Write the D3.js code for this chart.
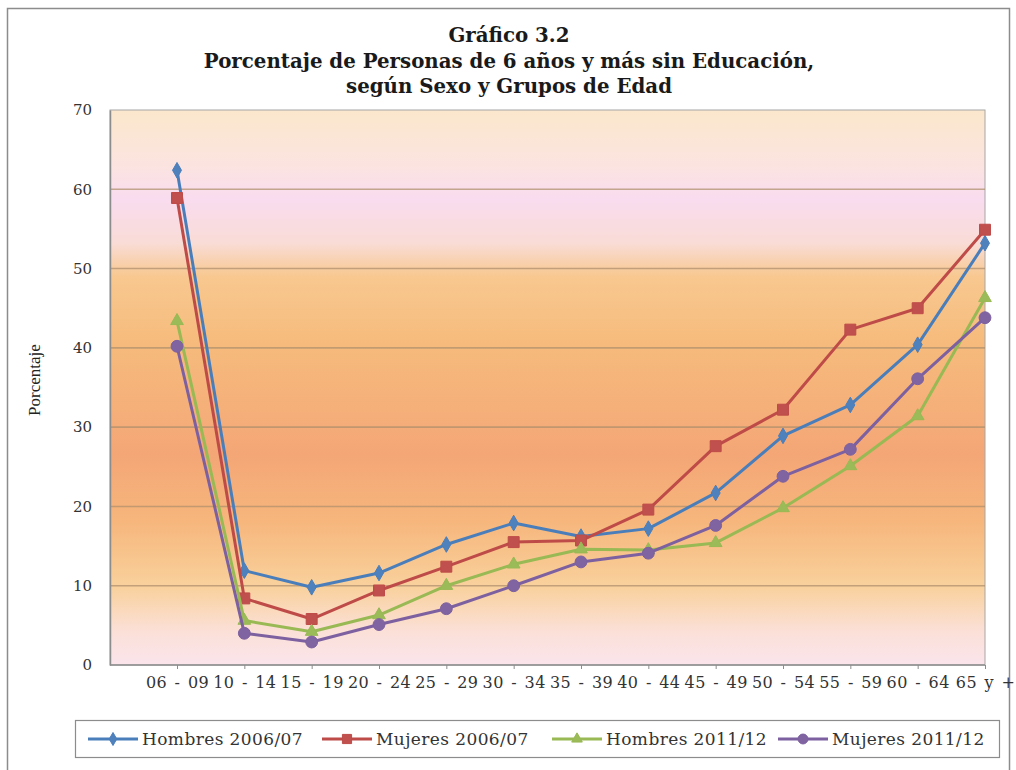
<!DOCTYPE html>
<html>
<head>
<meta charset="utf-8">
<script src="https://cdn.jsdelivr.net/npm/d3@7"></script>
<style>
  body { margin: 0; background: #fff; }
  svg { display: block; }
</style>
</head>
<body>
<svg id="chart"></svg>
<script>
// data
const categories = ['06 - 09', '10 - 14', '15 - 19', '20 - 24', '25 - 29', '30 - 34', '35 - 39',
  '40 - 44', '45 - 49', '50 - 54', '55 - 59', '60 - 64', '65 y +'];
const hombres0607 = [62.4, 11.9, 9.8, 11.6, 15.2, 17.9, 16.2, 17.2, 21.7, 28.9, 32.8, 40.4, 53.2];
const mujeres0607 = [58.9, 8.4, 5.8, 9.4, 12.4, 15.5, 15.7, 19.6, 27.6, 32.2, 42.3, 45.0, 54.9];
const hombres1112 = [43.4, 5.6, 4.2, 6.3, 10.0, 12.7, 14.6, 14.5, 15.4, 19.8, 25.1, 31.4, 46.3];
const mujeres1112 = [40.2, 4.0, 2.9, 5.1, 7.1, 10.0, 13.0, 14.1, 17.6, 23.8, 27.2, 36.1, 43.8];
const yTicks = [0, 10, 20, 30, 40, 50, 60, 70];

const series = [
  { name: 'Hombres 2006/07', values: hombres0607, line: '#4a7ebb', fill: '#4f81bd', symbol: d3.symbolDiamond, size: 70 },
  { name: 'Mujeres 2006/07', values: mujeres0607, line: '#be4b48', fill: '#c0504d', symbol: d3.symbolSquare, size: 120 },
  { name: 'Hombres 2011/12', values: hombres1112, line: '#98b954', fill: '#9bbb59', symbol: d3.symbolTriangle, size: 70 },
  { name: 'Mujeres 2011/12', values: mujeres1112, line: '#7d60a0', fill: '#8064a2', symbol: d3.symbolCircle, size: 110 }
];

const width = 1016;
const height = 770;
const plot = { left: 110, right: 985, top: 110, bottom: 665 };
const serif = '"DejaVu Serif", "Liberation Serif", serif';
const narrow = '"Liberation Serif", serif';

const svg = d3.select('#chart')
  .attr('width', width)
  .attr('height', height);

// outer chart frame
svg.append('rect')
  .attr('x', 7.5).attr('y', 8.5)
  .attr('width', 1002).attr('height', 800)
  .attr('fill', '#fff')
  .attr('stroke', '#8c8c8c')
  .attr('stroke-width', 1.5);

// plot background gradient
const grad = svg.append('defs').append('linearGradient')
  .attr('id', 'plotBg')
  .attr('x1', '0%').attr('x2', '0%')
  .attr('y1', '0%').attr('y2', '100%');

[
  [0, '#fbe7cc'], [0.1, '#fbe4e0'], [0.16, '#f9dcef'], [0.24, '#f9dcd6'],
  [0.3, '#f8c890'], [0.42, '#f6bb7c'], [0.55, '#f5ae79'], [0.62, '#f4a676'],
  [0.74, '#f6b67c'], [0.86, '#f9d19d'], [0.94, '#fbe0d8'], [1, '#fbe5ec']
].forEach(([o, c]) => {
  grad.append('stop').attr('offset', o).attr('stop-color', c);
});

const x = d3.scalePoint()
  .domain(categories)
  .range([177, 985]);

const y = d3.scaleLinear()
  .domain([0, 70])
  .range([plot.bottom, plot.top]);

svg.append('rect')
  .attr('x', plot.left).attr('y', plot.top)
  .attr('width', plot.right - plot.left)
  .attr('height', plot.bottom - plot.top)
  .attr('fill', 'url(#plotBg)')
  .attr('stroke', '#a6a6a6')
  .attr('stroke-width', 1);

// gridlines
svg.append('g')
  .selectAll('line')
  .data(yTicks.filter((d) => d > 0 && d < 70))
  .join('line')
  .attr('x1', plot.left).attr('x2', plot.right)
  .attr('y1', (d) => y(d)).attr('y2', (d) => y(d))
  .attr('stroke', '#b0906e')
  .attr('stroke-opacity', 0.75)
  .attr('stroke-width', 1.6);

// axes
const yAxis = svg.append('g')
  .attr('transform', `translate(${plot.left},0)`)
  .call(d3.axisLeft(y).tickValues(yTicks).tickSize(0).tickPadding(18));
yAxis.select('.domain').attr('stroke', '#8c8c8c').attr('stroke-width', 1.5);
yAxis.selectAll('text')
  .attr('font-family', serif)
  .attr('font-size', 15)
  .attr('fill', '#333');

const xAxis = svg.append('g')
  .attr('transform', `translate(0,${plot.bottom})`)
  .call(d3.axisBottom(x).tickSize(4).tickPadding(8));
xAxis.select('.domain').remove();
xAxis.append('line')
  .attr('x1', plot.left).attr('x2', plot.right)
  .attr('stroke', '#8c8c8c').attr('stroke-width', 1.5);
xAxis.selectAll('.tick line').attr('stroke', '#8c8c8c');
xAxis.selectAll('text')
  .attr('font-family', serif)
  .attr('font-size', 16)
  .attr('letter-spacing', 0.4)
  .attr('word-spacing', 2)
  .attr('fill', '#333');

// lines and markers
const line = d3.line()
  .x((d, i) => x(categories[i]))
  .y((d) => y(d));

series.forEach((s) => {
  const g = svg.append('g');
  g.append('path')
    .datum(s.values)
    .attr('d', line)
    .attr('fill', 'none')
    .attr('stroke', s.line)
    .attr('stroke-width', 3)
    .attr('stroke-linejoin', 'round');
  g.selectAll('path.marker')
    .data(s.values)
    .join('path')
    .attr('class', 'marker')
    .attr('transform', (d, i) => `translate(${x(categories[i])},${y(d)})`)
    .attr('d', d3.symbol().type(s.symbol).size(s.size))
    .attr('fill', s.fill)
    .attr('stroke', s.line)
    .attr('stroke-width', 1);
});

// titles
const title = svg.append('g')
  .attr('font-family', serif)
  .attr('font-weight', 'bold')
  .attr('font-size', 19.8)
  .attr('fill', '#1a1a1a')
  .attr('text-anchor', 'middle');
['Gráfico 3.2',
 'Porcentaje de Personas de 6 años y más sin Educación,',
 'según Sexo y Grupos de Edad'].forEach((t, i) => {
  title.append('text')
    .attr('x', 509)
    .attr('y', 42 + i * 25.5)
    .text(t);
});

svg.append('text')
  .attr('transform', 'translate(40,380) rotate(-90)')
  .attr('text-anchor', 'middle')
  .attr('font-family', narrow)
  .attr('font-size', 17)
  .attr('fill', '#222')
  .text('Porcentaje');

// legend
const legend = svg.append('g');
legend.append('rect')
  .attr('x', 75.5).attr('y', 720.5)
  .attr('width', 924).attr('height', 37)
  .attr('fill', '#fff')
  .attr('stroke', '#8c8c8c')
  .attr('stroke-width', 1.2);

const legendX = [88, 322, 552, 778];
series.forEach((s, i) => {
  const lg = legend.append('g')
    .attr('transform', `translate(${legendX[i]},739)`);
  lg.append('line')
    .attr('x1', 0).attr('x2', 50)
    .attr('stroke', s.line)
    .attr('stroke-width', 3);
  lg.append('path')
    .attr('transform', 'translate(25,0)')
    .attr('d', d3.symbol().type(s.symbol).size(s.size * 0.7))
    .attr('fill', s.fill)
    .attr('stroke', s.line);
  lg.append('text')
    .attr('x', 54)
    .attr('dy', '0.35em')
    .attr('font-family', serif)
    .attr('font-size', 17)
    .attr('letter-spacing', 0.4)
    .attr('fill', '#333')
    .text(s.name);
});
</script>
</body>
</html>
